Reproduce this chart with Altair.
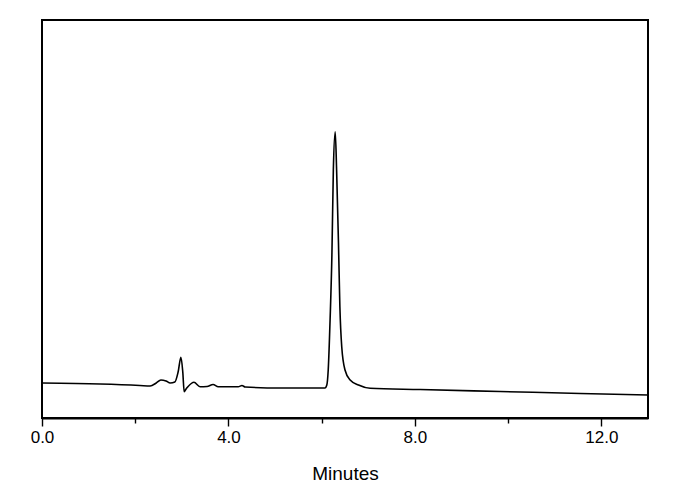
import altair as alt
import pandas as pd

# Retention time (min) and detector response (arbitrary units)
time_min = [0.0, 1.245, 2.10, 2.32, 2.45, 2.55, 2.66, 2.75, 2.85, 2.92, 2.98, 3.02, 3.05,
            3.09, 3.13, 3.26, 3.39, 3.54, 3.67, 3.78, 4.21, 4.29, 4.36, 5.11, 5.97,
            6.07, 6.11, 6.14, 6.18, 6.22, 6.25, 6.29, 6.32, 6.36, 6.39, 6.43, 6.50,
            6.61, 6.79, 7.04, 8.11, 9.83, 11.55, 13.0]
response = [8.79, 8.54, 8.17, 8.04, 8.79, 9.55, 9.30, 8.79, 9.05, 11.56, 15.25, 11.56, 6.61,
            7.29, 7.86, 8.97, 7.86, 7.91, 8.42, 7.86, 7.86, 8.17, 7.79, 7.54, 7.54,
            7.54, 8.29, 12.06, 24.6, 41.5, 62.3, 71.9, 62.3, 44.0, 28.0, 17.9, 12.06,
            9.55, 8.29, 7.46, 7.16, 6.66, 6.16, 5.78]

x_ticks = [0, 2, 4, 6, 8, 10, 12]

df = pd.DataFrame({"t": time_min, "v": response})

chart = alt.Chart(df).mark_line(color="black", strokeWidth=1.6, interpolate="monotone").encode(
    x=alt.X("t:Q",
            scale=alt.Scale(domain=[0, 13], nice=False, zero=False),
            axis=alt.Axis(values=x_ticks, title="Minutes",
                          labelExpr="datum.value % 4 === 0 ? format(datum.value, '.1f') : ''",
                          tickSize={"condition": {"test": "datum.value % 4 === 0", "value": 8}, "value": 5},
                          tickColor="black", tickWidth=1.4,
                          domainColor="black", domainWidth=2,
                          labelFont="Liberation Sans", labelFontSize=17, labelColor="black",
                          labelPadding=3, labelFlush=False,
                          titleFont="Liberation Sans", titleFontSize=19, titleFontWeight="normal",
                          titleColor="black", titlePadding=19, grid=False)),
    y=alt.Y("v:Q", scale=alt.Scale(domain=[0, 100], nice=False), axis=None),
).properties(
    width=606, height=398,
    autosize=alt.AutoSizeParams(type="none"),
    padding={"left": 34, "top": 12, "right": 20, "bottom": 70},
).configure_view(
    stroke="black", strokeWidth=2
)

chart.save("out.html", embed_options={"renderer": "svg", "actions": False})
